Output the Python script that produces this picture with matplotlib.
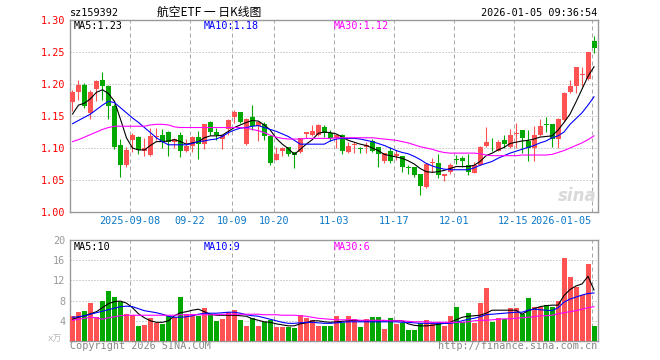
import numpy as np
import pandas as pd
import matplotlib
matplotlib.use('Agg')
import matplotlib.pyplot as plt

# daily candles
opens = [1.172, 1.188, 1.198, 1.154, 1.192, 1.206, 1.197, 1.166, 1.105, 1.074,
         1.112, 1.117, 1.096, 1.089, 1.117, 1.120, 1.125, 1.110, 1.120, 1.096,
         1.103, 1.117, 1.107, 1.141, 1.125, 1.114, 1.129, 1.149, 1.156, 1.106,
         1.148, 1.135, 1.138, 1.119, 1.081, 1.095, 1.101, 1.093, 1.093, 1.122,
         1.120, 1.120, 1.133, 1.124, 1.115, 1.120, 1.093, 1.104, 1.0995, 1.101,
         1.111, 1.101, 1.079, 1.096, 1.087, 1.088, 1.0708, 1.071, 1.059, 1.039,
         1.076, 1.077, 1.056, 1.063, 1.083, 1.084, 1.073, 1.061, 1.073, 1.103,
         1.105, 1.096, 1.1125, 1.101, 1.1215, 1.128, 1.111, 1.1005, 1.120, 1.137,
         1.1375, 1.1135, 1.144, 1.188, 1.197, 1.2136, 1.2073, 1.267]
highs = [1.190, 1.206, 1.202, 1.190, 1.206, 1.218, 1.198, 1.168, 1.114, 1.101,
         1.124, 1.118, 1.116, 1.132, 1.132, 1.130, 1.126, 1.115, 1.125, 1.114,
         1.118, 1.127, 1.138, 1.142, 1.132, 1.121, 1.145, 1.159, 1.157, 1.147,
         1.167, 1.140, 1.140, 1.119, 1.101, 1.101, 1.101, 1.093, 1.116, 1.125,
         1.136, 1.138, 1.136, 1.128, 1.122, 1.122, 1.110, 1.110, 1.102, 1.109,
         1.114, 1.101, 1.092, 1.102, 1.097, 1.088, 1.073, 1.071, 1.059, 1.076,
         1.084, 1.091, 1.060, 1.076, 1.089, 1.087, 1.090, 1.078, 1.103, 1.133,
         1.116, 1.112, 1.120, 1.129, 1.1385, 1.128, 1.128, 1.134, 1.145, 1.148,
         1.138, 1.1475, 1.187, 1.206, 1.227, 1.227, 1.2505, 1.2755]
lows = [1.158, 1.175, 1.162, 1.145, 1.173, 1.175, 1.145, 1.098, 1.055, 1.071,
        1.093, 1.091, 1.088, 1.087, 1.112, 1.100, 1.088, 1.100, 1.086, 1.094,
        1.093, 1.083, 1.098, 1.120, 1.113, 1.099, 1.120, 1.139, 1.139, 1.105,
        1.128, 1.111, 1.113, 1.073, 1.081, 1.087, 1.087, 1.069, 1.092, 1.116,
        1.119, 1.119, 1.117, 1.111, 1.100, 1.090, 1.092, 1.092, 1.092, 1.092,
        1.093, 1.071, 1.077, 1.077, 1.082, 1.063, 1.060, 1.055, 1.027, 1.037,
        1.063, 1.053, 1.049, 1.060, 1.075, 1.071, 1.058, 1.061, 1.073, 1.102,
        1.096, 1.095, 1.0995, 1.0995, 1.0995, 1.092, 1.079, 1.079, 1.119, 1.1255,
        1.102, 1.100, 1.141, 1.1855, 1.1855, 1.197, 1.206, 1.248]
closes = [1.188, 1.198, 1.165, 1.188, 1.205, 1.197, 1.166, 1.101, 1.073, 1.097,
          1.120, 1.097, 1.100, 1.118, 1.119, 1.110, 1.110, 1.114, 1.095, 1.103,
          1.117, 1.106, 1.138, 1.125, 1.120, 1.120, 1.143, 1.157, 1.141, 1.146,
          1.134, 1.140, 1.119, 1.076, 1.091, 1.100, 1.090, 1.089, 1.115, 1.125,
          1.127, 1.136, 1.123, 1.115, 1.121, 1.096, 1.103, 1.107, 1.0985, 1.105,
          1.096, 1.090, 1.092, 1.080, 1.090, 1.071, 1.0695, 1.058, 1.040, 1.075,
          1.0775, 1.058, 1.059, 1.073, 1.082, 1.079, 1.063, 1.073, 1.102, 1.109,
          1.104, 1.110, 1.106, 1.121, 1.123, 1.115, 1.1005, 1.120, 1.134, 1.1355,
          1.1135, 1.145, 1.1865, 1.197, 1.227, 1.2152, 1.2505, 1.2567]

ma5 = [1.153, 1.167, 1.170, 1.177, 1.187, 1.191, 1.185, 1.173, 1.145, 1.116,
       1.100, 1.097, 1.097, 1.104, 1.110, 1.110, 1.111, 1.113, 1.110, 1.106,
       1.108, 1.110, 1.116, 1.119, 1.119, 1.120, 1.126, 1.132, 1.136, 1.140,
       1.143, 1.142, 1.136, 1.128, 1.115, 1.106, 1.099, 1.090, 1.098, 1.106,
       1.113, 1.123, 1.125, 1.124, 1.122, 1.117, 1.112, 1.109, 1.106, 1.104,
       1.100, 1.096, 1.090, 1.088, 1.086, 1.084, 1.080, 1.075, 1.068, 1.063,
       1.062, 1.063, 1.065, 1.068, 1.071, 1.071, 1.071, 1.073, 1.079, 1.088,
       1.092, 1.097, 1.101, 1.107, 1.109, 1.111, 1.112, 1.114, 1.117, 1.118,
       1.119, 1.128, 1.140, 1.153, 1.172, 1.192, 1.212, 1.227]
ma10 = [1.138, 1.143, 1.148, 1.153, 1.160, 1.167, 1.173, 1.171, 1.163, 1.155,
        1.147, 1.140, 1.132, 1.124, 1.116, 1.110, 1.105, 1.105, 1.105, 1.105,
        1.107, 1.110, 1.111, 1.113, 1.114, 1.118, 1.124, 1.128, 1.131, 1.132,
        1.134, 1.135, 1.132, 1.129, 1.126, 1.122, 1.118, 1.112, 1.106, 1.106,
        1.106, 1.106, 1.106, 1.111, 1.114, 1.115, 1.115, 1.115, 1.114, 1.112,
        1.110, 1.107, 1.104, 1.100, 1.096, 1.093, 1.091, 1.087, 1.082, 1.076,
        1.072, 1.069, 1.067, 1.066, 1.066, 1.066, 1.066, 1.069, 1.073, 1.076,
        1.079, 1.084, 1.088, 1.092, 1.095, 1.098, 1.101, 1.104, 1.108, 1.111,
        1.116, 1.119, 1.125, 1.137, 1.146, 1.155, 1.167, 1.180]
ma30 = [1.110, 1.113, 1.117, 1.121, 1.125, 1.129, 1.132, 1.134, 1.134, 1.134,
        1.134, 1.134, 1.134, 1.136, 1.137, 1.137, 1.136, 1.133, 1.132, 1.132,
        1.132, 1.132, 1.132, 1.132, 1.132, 1.132, 1.132, 1.132, 1.132, 1.131,
        1.129, 1.127, 1.124, 1.120, 1.117, 1.115, 1.114, 1.114, 1.114, 1.115,
        1.115, 1.115, 1.115, 1.115, 1.116, 1.116, 1.116, 1.116, 1.116, 1.116,
        1.116, 1.115, 1.114, 1.113, 1.112, 1.110, 1.108, 1.105, 1.102, 1.100,
        1.098, 1.095, 1.093, 1.092, 1.092, 1.092, 1.092, 1.092, 1.091, 1.089,
        1.088, 1.088, 1.088, 1.088, 1.088, 1.089, 1.089, 1.089, 1.089, 1.089,
        1.090, 1.093, 1.096, 1.100, 1.104, 1.108, 1.113, 1.119]

# volume in 10k lots
volumes = [5.0, 5.8, 6.0, 7.6, 4.7, 8.0, 10.0, 8.8, 7.8, 5.4,
           5.2, 2.9, 3.2, 4.6, 3.6, 3.4, 5.0, 4.8, 8.8, 5.4,
           5.4, 5.0, 6.6, 5.4, 4.0, 4.4, 5.8, 6.2, 4.2, 3.0,
           4.6, 3.0, 3.8, 4.2, 2.7, 2.8, 2.7, 2.5, 5.2, 4.6,
           4.2, 3.0, 3.0, 3.0, 5.0, 3.5, 5.0, 4.3, 2.8, 4.3,
           4.8, 4.8, 2.3, 4.6, 3.3, 3.5, 2.2, 2.2, 3.5, 4.1,
           3.8, 3.8, 3.0, 5.0, 6.8, 3.7, 5.6, 3.6, 7.6, 10.4,
           3.8, 4.6, 4.3, 6.6, 6.6, 5.3, 8.6, 6.7, 6.8, 7.2,
           6.8, 8.0, 16.4, 12.6, 10.6, 9.1, 15.2, 3.0]
vol_ma5 = [4.3, 4.7, 5.0, 5.4, 5.8, 6.6, 7.4, 7.8, 7.9, 7.5,
           6.6, 5.4, 4.6, 4.0, 3.7, 3.7, 4.0, 5.0, 5.6, 5.8,
           6.1, 6.3, 5.8, 5.3, 5.1, 5.1, 5.1, 5.1, 5.0, 4.9,
           4.4, 4.1, 3.8, 3.7, 3.4, 3.2, 3.0, 3.0, 3.4, 3.6,
           4.0, 4.0, 3.8, 3.7, 3.8, 3.9, 4.0, 4.1, 4.0, 4.0,
           4.0, 4.0, 4.0, 4.0, 4.0, 4.0, 3.4, 3.1, 3.0, 3.0,
           3.1, 3.3, 3.5, 3.7, 4.2, 4.7, 4.9, 5.0, 5.1, 5.5,
           6.1, 6.1, 6.1, 6.1, 6.1, 5.3, 6.0, 6.4, 6.8, 7.0,
           7.1, 7.1, 9.0, 10.2, 10.9, 11.3, 12.8, 10.1]
vol_ma10 = [4.7, 4.8, 5.0, 5.3, 5.6, 5.9, 6.2, 6.5, 6.8, 6.9,
            6.8, 6.4, 6.0, 5.8, 5.6, 5.3, 4.9, 4.7, 4.7, 4.8,
            5.0, 5.3, 5.5, 5.5, 5.5, 5.6, 5.7, 5.7, 5.5, 5.2,
            5.0, 4.9, 4.6, 4.3, 4.0, 3.7, 3.5, 3.5, 3.6, 3.7,
            3.7, 3.6, 3.5, 3.5, 3.6, 3.7, 3.8, 3.8, 3.8, 3.8,
            3.8, 3.8, 3.8, 3.8, 3.8, 3.7, 3.7, 3.6, 3.5, 3.5,
            3.5, 3.5, 3.5, 3.5, 3.7, 4.0, 4.3, 4.5, 4.8, 5.2,
            5.3, 5.4, 5.5, 5.6, 5.7, 5.7, 6.1, 6.3, 6.2, 6.1,
            6.0, 6.6, 7.7, 8.3, 8.7, 9.1, 9.4, 9.5]
vol_ma30 = [4.1, 4.3, 4.5, 4.7, 4.6, 4.3, 4.6, 4.8, 5.0, 5.1,
            5.1, 5.1, 5.1, 5.1, 5.1, 5.1, 5.1, 5.1, 5.2, 5.2,
            5.2, 5.2, 5.2, 5.2, 5.2, 5.3, 5.3, 5.3, 5.3, 5.3,
            5.3, 5.3, 5.2, 5.2, 5.2, 5.1, 5.1, 5.1, 5.0, 4.9,
            4.7, 4.5, 4.4, 4.3, 4.2, 4.2, 4.2, 4.2, 4.1, 4.1,
            4.1, 4.1, 4.1, 4.0, 4.0, 4.0, 3.9, 3.8, 3.8, 3.8,
            3.7, 3.7, 3.7, 3.7, 3.7, 3.7, 3.8, 4.0, 4.1, 4.1,
            4.2, 4.3, 4.4, 4.4, 4.5, 4.6, 4.7, 4.8, 5.0, 5.0,
            5.1, 5.4, 5.6, 5.8, 6.0, 6.3, 6.6, 6.8]

holidays = ['2025-10-01', '2025-10-02', '2025-10-03', '2025-10-06',
            '2025-10-07', '2025-10-08', '2026-01-01', '2026-01-02']
tick_dates = ['2025-09-08', '2025-09-22', '2025-10-09', '2025-10-20', '2025-11-03',
              '2025-11-17', '2025-12-01', '2025-12-15', '2026-01-05']
tick_labels = ['2025-09-08', '09-22', '10-09', '10-20', '11-03',
               '11-17', '12-01', '12-15', '2026-01-05']
price_ticks = [1.00, 1.05, 1.10, 1.15, 1.20, 1.25, 1.30]
vol_ticks = [4, 8, 12, 16, 20]

UP = '#ff5353'
DOWN = '#00a800'
GRID = '#a8a8a8'
FRAME = '#999999'
MONO = 'DejaVu Sans Mono'
FS = 7.3

days = pd.bdate_range('2025-08-25', '2026-01-05')
days = days[~days.isin(pd.to_datetime(holidays))]
x = np.arange(len(days))
tick_pos = [days.get_loc(pd.Timestamp(d)) for d in tick_dates]

o = np.array(opens); c = np.array(closes)
up = c >= o
colors = np.where(up, UP, DOWN)
W = 5 / 6          # candle body width (5px of a 6px slot)
mid = x + 2.5 / 6  # wick / line position

fig = plt.figure(figsize=(6.6, 3.6), dpi=100)
W_PX, H_PX = 660, 360


def box(l, t, r, b):
    return [l / W_PX, 1 - b / H_PX, (r - l) / W_PX, (b - t) / H_PX]


def style_frame(ax):
    for s in ax.spines.values():
        s.set_color(FRAME)
        s.set_linewidth(1.0)
    ax.tick_params(length=0)


# price panel
ax = fig.add_axes(box(70, 20, 597.5, 212))
body_lo = np.minimum(o, c)
body_h = np.maximum(np.abs(c - o), 0.0012)
ax.vlines(mid, lows, highs, colors=colors, linewidth=0.8, zorder=3)
ax.bar(x, body_h, bottom=body_lo, width=W, align='edge', color=colors,
       linewidth=0, zorder=4)
ax.plot(mid, ma5, color='black', lw=0.8, zorder=5)
ax.plot(mid, ma10, color='#0000ff', lw=0.8, zorder=5)
ax.plot(mid, ma30, color='#ff00ff', lw=0.8, zorder=5)
ax.set_xlim(0, len(days))
ax.set_ylim(1.00, 1.30)
ax.set_yticks(price_ticks)
ax.set_yticklabels(['%.2f' % v for v in price_ticks], color='#ff0000',
                   fontfamily=MONO, fontsize=FS)
ax.tick_params(axis='y', pad=3.5)
ax.set_xticks(tick_pos)
ax.set_xticklabels(tick_labels, color='#0a78c8', fontfamily=MONO, fontsize=FS)
ax.tick_params(axis='x', pad=3)
ax.get_xticklabels()[-1].set_horizontalalignment('right')
for v in price_ticks[1:-1]:
    ax.axhline(v, color=GRID, lw=0.72, ls=(0, (1, 2)), zorder=1)
for p in tick_pos:
    ax.axvline(p, color=GRID, lw=0.72, ls=(0, (4, 3)), zorder=1)
style_frame(ax)

# volume panel
av = fig.add_axes(box(70, 240, 597.5, 341))
av.bar(x, volumes, width=W, align='edge', color=colors, linewidth=0, zorder=3)
av.plot(mid, vol_ma5, color='black', lw=0.8, zorder=5)
av.plot(mid, vol_ma10, color='#0000ff', lw=0.8, zorder=5)
av.plot(mid, vol_ma30, color='#ff00ff', lw=0.8, zorder=5)
av.set_xlim(0, len(days))
av.set_ylim(0, 20)
av.set_yticks(vol_ticks)
av.set_yticklabels([str(v) for v in vol_ticks], color='#999999',
                   fontfamily=MONO, fontsize=FS)
av.tick_params(axis='y', pad=3.5)
av.set_xticks([])
for v in vol_ticks[:-1]:
    av.axhline(v, color=GRID, lw=0.72, ls=(0, (1, 2)), zorder=1)
for p in tick_pos:
    av.axvline(p, color=GRID, lw=0.72, ls=(0, (4, 3)), zorder=1)
style_frame(av)


def ftext(px, py, s, **kw):
    kw.setdefault('fontfamily', MONO)
    kw.setdefault('fontsize', FS)
    kw.setdefault('va', 'center')
    fig.text(px / W_PX, 1 - py / H_PX, s, **kw)


ftext(70, 13, 'sz159392')
ftext(209, 12.5, '航空ETF 一 日K线图', ha='center',
      fontfamily=['Noto Sans CJK SC', 'DejaVu Sans'], fontsize=8.5)
ftext(597, 13, '2026-01-05 09:36:54', ha='right')
ftext(74, 26, 'MA5:%.2f' % ma5[-1])
ftext(204, 26, 'MA10:%.2f' % ma10[-1], color='#0000ff')
ftext(334, 26, 'MA30:%.2f' % ma30[-1], color='#ff00ff')
ftext(74, 246.5, 'MA5:%d' % int(vol_ma5[-1]))
ftext(204, 246.5, 'MA10:%d' % int(vol_ma10[-1]), color='#0000ff')
ftext(334, 246.5, 'MA30:%d' % int(vol_ma30[-1]), color='#ff00ff')
ftext(48, 339, 'x万', color='#bbbbbb', fontfamily=['DejaVu Sans', 'Noto Sans CJK SC'],
      fontsize=6.5)
ftext(70, 346, 'Copyright 2026 SINA.COM', color='#888888')
ftext(597, 346, 'http://finance.sina.com.cn', ha='right', color='#888888')
ftext(597, 196, 'sina', ha='right', color='#d9d9d9', fontfamily='DejaVu Sans',
      fontsize=12, fontweight='bold', style='italic')

fig.savefig('out.png', dpi=100)
